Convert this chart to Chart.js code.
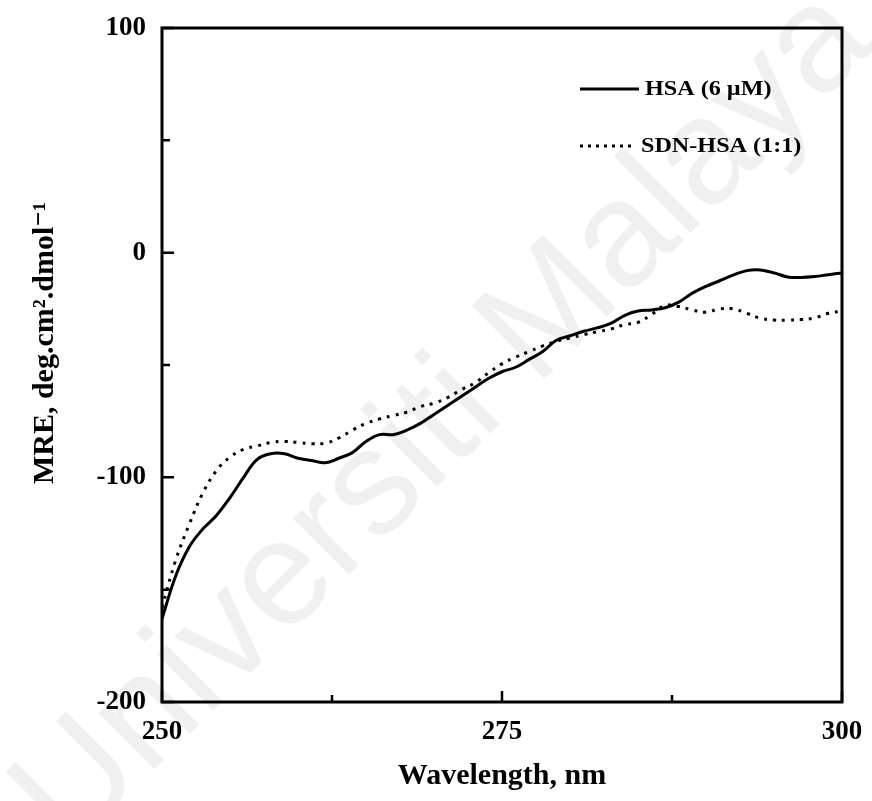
<!DOCTYPE html>
<html>
<head>
<meta charset="utf-8">
<script src="https://cdn.jsdelivr.net/npm/chart.js@4.4.1/dist/chart.umd.min.js"></script>
<style>
    html, body { margin: 0; padding: 0; background: #fff; }
    #wrap { width: 872px; height: 801px; position: relative; }
</style>
</head>
<body>
<div id="wrap"><canvas id="cdChart"></canvas></div>
<script>
// Wavelength (nm)
const wavelengths = [250, 251, 252, 253, 254, 255, 256, 257, 258, 259,
    260, 261, 262, 263, 264, 265, 266, 267, 268, 269,
    270, 271, 272, 273, 274, 275, 276, 277, 278, 279,
    280, 281, 282, 283, 284, 285, 286, 287, 288, 289,
    290, 291, 292, 293, 294, 295, 296, 297, 298, 299, 300];

// MRE values
const hsaValues = [-163, -144, -131, -123, -117, -109, -100, -92, -89.5, -89.5,
    -91.5, -92.5, -93.5, -91.5, -89, -84, -81, -81, -79, -76,
    -72, -68, -64, -60, -56, -53, -51, -47.5, -44, -39,
    -37, -35, -33.5, -31.5, -28, -26, -25.5, -24.5, -22, -18,
    -15, -12.5, -10, -8, -7.7, -9, -10.8, -11, -10.6, -9.8, -9];

const sdnValues = [-158, -137, -121, -107, -97, -91, -87.5, -86, -84.5, -84,
    -84.5, -85, -84.8, -82.5, -79, -76, -74, -72.5, -71, -68.5,
    -67, -64.5, -61, -58, -53.5, -49.5, -46.5, -44, -41.5, -39.5,
    -38, -36.5, -35.2, -34, -32, -31, -27.5, -23.5, -24, -25.5,
    -26.5, -25, -25, -27, -29.2, -30, -30, -29.8, -29, -27, -26];

const xTicks = [250, 275, 300];
const xMinorTicks = [262.5, 287.5];
const yTicks = [-200, -100, 0, 100];
const yMinorTicks = [-150, -50, 50];

const seriesLabels = ['HSA (6 \u00b5M)', 'SDN-HSA (1:1)'];
const xTitle = 'Wavelength, nm';
const yTitle = 'MRE, deg.cm\u00b2.dmol\u207b\u00b9';

const serif = '"Liberation Serif", "DejaVu Serif", serif';

// faint diagonal watermark behind everything
const watermark = {
    id: 'watermark',
    beforeDraw(chart) {
        const ctx = chart.ctx;
        ctx.save();
        ctx.translate(445, 420);
        ctx.rotate(-Math.PI / 4);
        ctx.fillStyle = 'rgba(0,0,0,0.06)';
        ctx.font = '150px "Liberation Sans", Arial, sans-serif';
        ctx.textAlign = 'center';
        ctx.textBaseline = 'middle';
        ctx.fillText('Universiti Malaya', 0, 0);
        ctx.restore();
    }
};

// frame, inward ticks, axis titles and legend
const frame = {
    id: 'frame',
    afterDraw(chart) {
        const ctx = chart.ctx;
        const a = chart.chartArea;
        const xs = chart.scales.x;
        const ys = chart.scales.y;
        ctx.save();
        ctx.strokeStyle = '#000';
        ctx.lineWidth = 3;
        ctx.strokeRect(a.left, a.top, a.right - a.left, a.bottom - a.top);

        ctx.lineWidth = 2.5;
        ctx.beginPath();
        yTicks.forEach(v => {
            const y = ys.getPixelForValue(v);
            ctx.moveTo(a.left, y); ctx.lineTo(a.left + 12, y);
        });
        yMinorTicks.forEach(v => {
            const y = ys.getPixelForValue(v);
            ctx.moveTo(a.left, y); ctx.lineTo(a.left + 8, y);
        });
        xTicks.forEach(v => {
            const x = xs.getPixelForValue(v);
            ctx.moveTo(x, a.bottom); ctx.lineTo(x, a.bottom - 11);
        });
        xMinorTicks.forEach(v => {
            const x = xs.getPixelForValue(v);
            ctx.moveTo(x, a.bottom); ctx.lineTo(x, a.bottom - 7);
        });
        ctx.stroke();

        // axis titles
        ctx.fillStyle = '#000';
        ctx.textAlign = 'center';
        ctx.textBaseline = 'middle';
        ctx.font = 'bold 30px ' + serif;
        ctx.fillText(xTitle, (a.left + a.right) / 2, 776);
        ctx.save();
        ctx.translate(45, 343);
        ctx.rotate(-Math.PI / 2);
        ctx.fillText(yTitle, 0, 0);
        ctx.restore();

        // legend
        ctx.textAlign = 'left';
        ctx.font = 'bold 21px ' + serif;
        ctx.lineWidth = 3;
        ctx.beginPath();
        ctx.moveTo(580, 89); ctx.lineTo(639, 89);
        ctx.stroke();
        ctx.save();
        ctx.translate(645, 90);
        ctx.scale(1.15, 1);
        ctx.fillText(seriesLabels[0], 0, 0);
        ctx.restore();

        ctx.setLineDash([3, 5]);
        ctx.beginPath();
        ctx.moveTo(580, 146); ctx.lineTo(634, 146);
        ctx.stroke();
        ctx.setLineDash([]);
        ctx.save();
        ctx.translate(641, 147);
        ctx.scale(1.15, 1);
        ctx.fillText(seriesLabels[1], 0, 0);
        ctx.restore();
        ctx.restore();
    }
};

const ctx = document.getElementById('cdChart').getContext('2d');
new Chart(ctx, {
    type: 'line',
    data: {
        labels: wavelengths,
        datasets: [{
            label: seriesLabels[0],
            data: wavelengths.map((w, i) => ({ x: w, y: hsaValues[i] })),
            borderColor: '#000',
            borderWidth: 3,
            pointRadius: 0,
            tension: 0.4,
            fill: false
        }, {
            label: seriesLabels[1],
            data: wavelengths.map((w, i) => ({ x: w, y: sdnValues[i] })),
            borderColor: '#000',
            borderWidth: 3,
            borderDash: [3, 6],
            pointRadius: 0,
            tension: 0.4,
            fill: false
        }]
    },
    options: {
        responsive: true,
        maintainAspectRatio: false,
        animation: false,
        layout: { padding: { top: 28, right: 30, left: 0, bottom: 0 } },
        plugins: {
            legend: { display: false },
            tooltip: { enabled: false }
        },
        scales: {
            x: {
                type: 'linear',
                min: 250,
                max: 300,
                afterBuildTicks: s => { s.ticks = xTicks.map(v => ({ value: v })); },
                grid: { display: false },
                border: { display: false },
                ticks: {
                    color: '#000',
                    padding: 6,
                    font: { family: serif, size: 27, weight: 'bold' }
                },
                afterFit: s => { s.height = 99; }
            },
            y: {
                min: -200,
                max: 100,
                afterBuildTicks: s => { s.ticks = yTicks.map(v => ({ value: v })); },
                grid: { display: false },
                border: { display: false },
                ticks: {
                    color: '#000',
                    padding: 8,
                    font: { family: serif, size: 27, weight: 'bold' }
                },
                afterFit: s => { s.width = 162; }
            }
        }
    },
    plugins: [watermark, frame]
});
</script>
</body>
</html>
